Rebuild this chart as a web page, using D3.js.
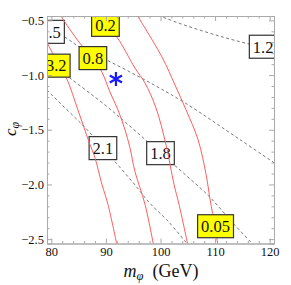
<!DOCTYPE html>
<html>
<head>
<meta charset="utf-8">
<script src="https://cdn.jsdelivr.net/npm/d3@7"></script>
<style>
  body { margin: 0; background: #fff; }
  svg { display: block; font-family: "Liberation Serif", "Times New Roman", serif; }
</style>
</head>
<body>
<div id="chart"></div>
<script>
const width = 291;
const height = 285;

// red (solid) contours: level labels, points as [m_phi, c_phi], label centres
const redLevels = ["3.2", "0.8", "0.2", "0.05"];
const redLines = [
  [[78.5, -0.64], [79.17, -0.70], [81.19, -0.891], [82.84, -1.036], [84.86, -1.318], [86.88, -1.609], [87.98, -1.755], [89.27, -2.0], [90.37, -2.182], [92.0, -2.55]],
  [[81.7, -0.45], [81.93, -0.473], [85.23, -0.709], [87.61, -0.845], [89.27, -0.973], [90.73, -1.155], [92.2, -1.318], [93.49, -1.5], [94.4, -1.664], [95.32, -1.882], [97.16, -2.182], [98.7, -2.55]],
  [[88.5, -0.44], [90.0, -0.555], [92.02, -0.655], [95.32, -0.936], [97.16, -1.073], [99.17, -1.3], [101.0, -1.636], [102.48, -2.0], [103.39, -2.182], [105.0, -2.55]],
  [[95.6, -0.44], [95.87, -0.464], [100.28, -0.836], [102.66, -1.091], [104.68, -1.318], [106.88, -1.591], [108.35, -1.909], [109.08, -2.136], [110.0, -2.39], [110.5, -2.55]]
];
const redLabelPos = [[80.9, -0.914], [87.61, -0.845], [89.91, -0.541], [110.09, -2.382]];

// dashed contours
const dashLevels = ["1.5", "1.2", "2.1", "1.8"];
const dashLines = [
  [[78.5, -0.5], [79.17, -0.545], [81.01, -0.6], [82.84, -0.664], [85.23, -0.745], [90.18, -0.864], [97.16, -1.045], [104.5, -1.255], [114.59, -1.591], [121.5, -1.825]],
  [[99.6, -0.455], [101.01, -0.482], [104.5, -0.545], [110.92, -0.645], [116.42, -0.718], [118.62, -0.736], [121.5, -0.76]],
  [[78.5, -1.1], [80.09, -1.182], [87.06, -1.527], [89.27, -1.664], [91.47, -1.782], [94.95, -1.982], [98.07, -2.173], [101.38, -2.336], [105.0, -2.55]],
  [[78.5, -0.84], [83.39, -1.027], [89.82, -1.273], [93.67, -1.436], [99.91, -1.709], [104.5, -1.909], [109.08, -2.118], [113.3, -2.355], [117.0, -2.55]]
];
const dashLabelPos = [[79.85, -0.605], [118.81, -0.741], [89.45, -1.668], [100.0, -1.714]];

// benchmark point
const markerPoint = [91.83, -1.036];

const xTicks = [80, 90, 100, 110, 120];
const yTicks = [-0.5, -1.0, -1.5, -2.0, -2.5];
const xMinor = d3.range(80, 121, 2).filter(d => d % 10 !== 0);
const yMinor = d3.range(-25, -4, 1).map(d => d / 10).filter(d => Math.round(d * 10) % 5 !== 0);

const margin = { top: 16, right: 17, bottom: 41.5, left: 47 };
const plotW = width - margin.left - margin.right;
const plotH = height - margin.top - margin.bottom;

const xScale = d3.scaleLinear().domain([79.2, 120.8]).range([margin.left, margin.left + plotW]);
const yScale = d3.scaleLinear().domain([-0.46, -2.54]).range([margin.top, margin.top + plotH]);

const svg = d3.select("#chart").append("svg")
  .attr("width", width)
  .attr("height", height);

svg.append("clipPath").attr("id", "plot-clip")
  .append("rect")
  .attr("x", margin.left).attr("y", margin.top)
  .attr("width", plotW).attr("height", plotH);

const line = d3.line()
  .x(d => xScale(d[0]))
  .y(d => yScale(d[1]))
  .curve(d3.curveCatmullRom);

const plot = svg.append("g").attr("clip-path", "url(#plot-clip)");

function drawLabels(g, levels, positions, fill) {
  const labels = g.selectAll("g.lbl")
    .data(levels)
    .join("g")
    .attr("class", "lbl")
    .attr("transform", (d, i) => `translate(${xScale(positions[i][0])},${yScale(positions[i][1])})`);
  const rects = labels.append("rect").attr("fill", fill).attr("stroke", "#333").attr("stroke-width", 1.2);
  const texts = labels.append("text")
    .attr("text-anchor", "middle")
    .attr("dy", "0.35em")
    .attr("font-size", 16.5)
    .attr("fill", "#111")
    .text(d => d);
  texts.each(function (d, i) {
    const w = this.getComputedTextLength() + 7;
    d3.select(rects.nodes()[i])
      .attr("x", -w / 2).attr("y", -11.5)
      .attr("width", w).attr("height", 23);
  });
}

// dashed family first, red family on top
const dashG = plot.append("g");
dashG.selectAll("path")
  .data(dashLines)
  .join("path")
  .attr("d", line)
  .attr("fill", "none")
  .attr("stroke", "#555")
  .attr("stroke-width", 0.8)
  .attr("stroke-dasharray", "3,2.5");
drawLabels(dashG, dashLevels, dashLabelPos, "#fff");

const redG = plot.append("g");
redG.selectAll("path")
  .data(redLines)
  .join("path")
  .attr("d", line)
  .attr("fill", "none")
  .attr("stroke", "#ff5c5c")
  .attr("stroke-width", 1);
drawLabels(redG, redLevels, redLabelPos, "#ffff00");

// asterisk marker
svg.append("path")
  .attr("d", d3.symbol(d3.symbolAsterisk, 140)())
  .attr("transform", `translate(${xScale(markerPoint[0])},${yScale(markerPoint[1])})`)
  .attr("fill", "none")
  .attr("stroke", "#1a1aff")
  .attr("stroke-width", 2.2);

// frame with inward ticks
const frameColor = "#aaa";
function styleAxis(g) {
  g.select(".domain").attr("stroke", frameColor);
  g.selectAll(".tick line").attr("stroke", frameColor);
  g.selectAll(".tick text").attr("fill", "#111").attr("font-size", 12.5)
    .attr("font-family", "'Liberation Serif', 'Times New Roman', serif");
}

const bottomY = margin.top + plotH;
const rightX = margin.left + plotW;

svg.append("g").attr("transform", `translate(0,${bottomY})`)
  .call(d3.axisBottom(xScale).tickValues(xMinor).tickSize(-2.5).tickFormat(""))
  .call(styleAxis);
svg.append("g").attr("transform", `translate(0,${bottomY})`)
  .call(d3.axisBottom(xScale).tickValues(xTicks).tickSize(-5).tickPadding(4).tickFormat(d3.format("d")))
  .call(styleAxis);

svg.append("g").attr("transform", `translate(0,${margin.top})`)
  .call(d3.axisTop(xScale).tickValues(xMinor).tickSize(-2.5).tickFormat(""))
  .call(styleAxis);
svg.append("g").attr("transform", `translate(0,${margin.top})`)
  .call(d3.axisTop(xScale).tickValues(xTicks).tickSize(-5).tickFormat(""))
  .call(styleAxis);

svg.append("g").attr("transform", `translate(${margin.left},0)`)
  .call(d3.axisLeft(yScale).tickValues(yMinor).tickSize(-2.5).tickFormat(""))
  .call(styleAxis);
svg.append("g").attr("transform", `translate(${margin.left},0)`)
  .call(d3.axisLeft(yScale).tickValues(yTicks).tickSize(-5).tickPadding(3).tickFormat(d3.format(".1f")))
  .call(styleAxis);

svg.append("g").attr("transform", `translate(${rightX},0)`)
  .call(d3.axisRight(yScale).tickValues(yMinor).tickSize(-2.5).tickFormat(""))
  .call(styleAxis);
svg.append("g").attr("transform", `translate(${rightX},0)`)
  .call(d3.axisRight(yScale).tickValues(yTicks).tickSize(-5).tickFormat(""))
  .call(styleAxis);

// axis titles
const xTitle = svg.append("text")
  .attr("x", 161)
  .attr("y", 277)
  .attr("text-anchor", "middle")
  .attr("font-size", 18)
  .attr("fill", "#111");
xTitle.append("tspan").attr("font-style", "italic").text("m");
xTitle.append("tspan").attr("font-style", "italic").attr("font-size", 12.5).attr("dy", 3).text("φ");
xTitle.append("tspan").attr("dy", -3).text("\u00a0\u00a0(GeV)");

const yTitle = svg.append("text")
  .attr("transform", "translate(16,129) rotate(-90)")
  .attr("text-anchor", "middle")
  .attr("font-size", 17)
  .attr("fill", "#111");
yTitle.append("tspan").attr("font-style", "italic").text("c");
yTitle.append("tspan").attr("font-style", "italic").attr("font-size", 12).attr("dy", 3).text("φ");
</script>
</body>
</html>
